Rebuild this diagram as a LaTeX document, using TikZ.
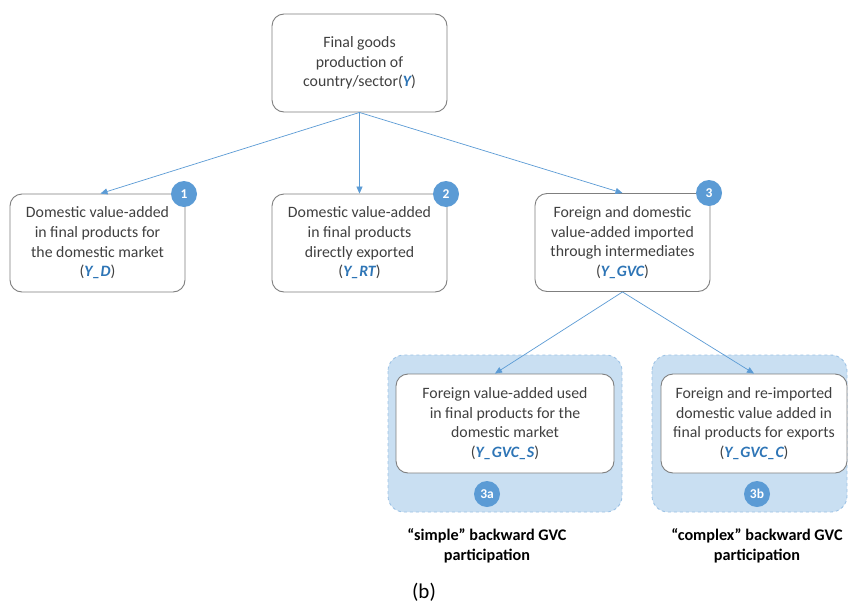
\documentclass[tikz,border=0pt]{standalone}
\usepackage{fontspec}
\setmainfont{Carlito}
\usetikzlibrary{arrows.meta}
\definecolor{txt}{HTML}{404040}
\definecolor{ln}{HTML}{5B9BD5}
\definecolor{yb}{HTML}{2E75B6}
\definecolor{badge}{HTML}{5B9BD5}
\definecolor{grpfill}{HTML}{C9DFF2}
\definecolor{grpdraw}{HTML}{9DC3E6}
\definecolor{boxdraw}{HTML}{7F7F7F}
\tikzset{
  mybox/.style={draw=boxdraw, line width=0.9pt, rounded corners=12pt, fill=white,
    minimum width=175pt, minimum height=98pt, align=center, text=txt,
    font=\fontsize{15.8}{19.7}\selectfont, inner sep=2pt},
  grp/.style={draw=grpdraw, dashed, line width=0.9pt, fill=grpfill, rounded corners=16pt},
  badgec/.style={circle, fill=badge, text=white, minimum size=26pt, inner sep=0pt,
    font=\fontsize{13.5}{13.5}\selectfont\bfseries},
  conn/.style={draw=ln, line width=0.7pt, -{Triangle[length=7pt,width=6pt]}},
  captext/.style={align=center, text=black, font=\fontsize{16.2}{20}\selectfont\bfseries},
}
\newcommand{\yv}[1]{{\color{yb}\bfseries\itshape #1}}
\begin{document}
\begin{tikzpicture}[x=1pt,y=-1pt]
\useasboundingbox[fill=white] (0,0) rectangle (848,605);
% groups
\draw[grp] (388,355) rectangle (622,512);
\draw[grp] (652,355) rectangle (847,512);
% boxes
\node[mybox] (top) at (359.5,63) {Final goods\\production of\\country/sector(\yv{Y})};
\node[mybox] (b1) at (97.5,243) {Domestic value-added\\in final products for\\the domestic market\\(\yv{Y\_D})};
\node[mybox] (b2) at (359.5,243) {Domestic value-added\\in final products\\directly exported\\(\yv{Y\_RT})};
\node[mybox] (b3) at (622.5,242.5) {Foreign and domestic\\value-added imported\\through intermediates\\(\yv{Y\_GVC})};
\node[mybox, minimum width=218pt, minimum height=99pt] (b3a) at (505,423.5) {Foreign value-added used\\in final products for the\\domestic market\\(\yv{Y\_GVC\_S})};
\node[mybox, minimum width=186pt, minimum height=99pt] (b3b) at (754,423.5) {Foreign and re-imported\\domestic value added in\\final products for exports\\(\yv{Y\_GVC\_C})};
% badges
\node[badgec] (n1) at (184,194) {1};
\node[badgec] (n2) at (446,194) {2};
\node[badgec] (n3) at (709,193) {3};
\node[badgec] (n3a) at (487,494) {3a};
\node[badgec] (n3b) at (757,494) {3b};
% connectors
\coordinate (tb) at (top.south);
\draw[conn] (tb) -- ([xshift=3pt]b1.north);
\draw[conn] (tb) -- (b2.north);
\draw[conn] (tb) -- (b3.north);
\draw[conn] (b3.south) -- ([xshift=-10pt]b3a.north);
\draw[conn] (b3.south) -- (b3b.north);
% captions
\node[captext] (c1) at (487,546) {“simple” backward GVC\\participation};
\node[captext] (c2) at (757,546) {“complex” backward GVC\\participation};
\node[font=\fontsize{21}{24}\selectfont, text=black] (lb) at (424,592) {(b)};
\end{tikzpicture}
\end{document}
